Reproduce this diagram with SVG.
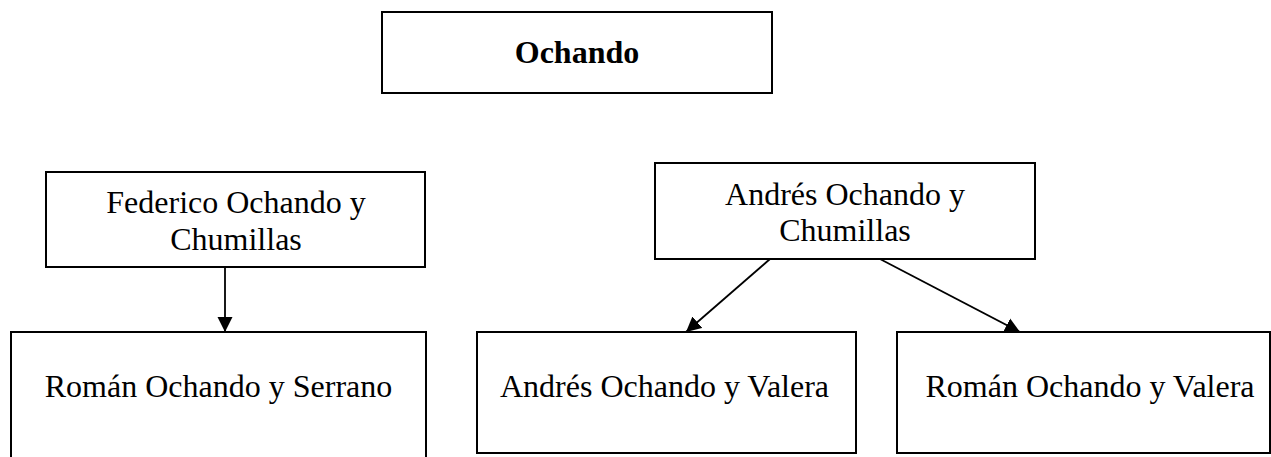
<svg xmlns="http://www.w3.org/2000/svg" width="1271" height="457" viewBox="0 0 1271 457">
<style>
.box{fill:#fff;stroke:#000;stroke-width:2}
.t{font-family:"Liberation Serif","Times New Roman",serif;font-size:32px;fill:#000;text-anchor:middle}
.b{font-weight:bold}
.c{stroke:#000;stroke-width:1.8;fill:none;marker-end:url(#ah)}
</style>
<defs>
<marker id="ah" viewBox="0 0 10 10" refX="10" refY="5" markerUnits="userSpaceOnUse" markerWidth="15" markerHeight="16" orient="auto">
<path d="M0,0 L10,5 L0,10 Z" fill="#000"/>
</marker>
</defs>
<rect width="1271" height="457" fill="#fff"/>
<g id="connectors">
<line class="c" x1="225" y1="267" x2="225" y2="332"/>
<line class="c" x1="770" y1="259" x2="686" y2="332"/>
<line class="c" x1="880" y1="259" x2="1020" y2="332"/>
</g>
<g id="n-ochando">
<rect class="box" x="382" y="12" width="390" height="81"/>
<text class="t b" x="577" y="63">Ochando</text>
</g>
<g id="n-federico">
<rect class="box" x="46" y="172" width="379" height="95"/>
<text class="t" x="236" y="213">Federico Ochando y</text>
<text class="t" x="236" y="250">Chumillas</text>
</g>
<g id="n-andres-chumillas">
<rect class="box" x="655" y="163" width="380" height="96"/>
<text class="t" x="845" y="205">Andrés Ochando y</text>
<text class="t" x="845" y="241">Chumillas</text>
</g>
<g id="n-roman-serrano">
<rect class="box" x="11" y="332" width="415" height="140"/>
<text class="t" x="218.5" y="397">Román Ochando y Serrano</text>
</g>
<g id="n-andres-valera">
<rect class="box" x="477" y="332" width="379" height="121"/>
<text class="t" x="664.5" y="397">Andrés Ochando y Valera</text>
</g>
<g id="n-roman-valera">
<rect class="box" x="897" y="332" width="373" height="121"/>
<text class="t" x="1090" y="397">Román Ochando y Valera</text>
</g>
</svg>
